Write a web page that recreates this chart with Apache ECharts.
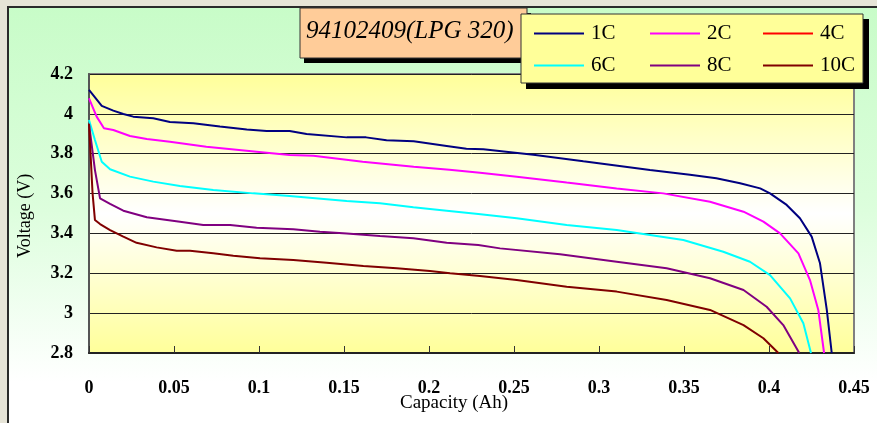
<!DOCTYPE html>
<html>
<head>
<meta charset="utf-8">
<script src="https://cdn.jsdelivr.net/npm/echarts@6/dist/echarts.min.js"></script>
<style>
html,body{margin:0;padding:0;background:#e6e4d7;}
#c{width:877px;height:423px;}
</style>
</head>
<body>
<div id="c"></div>
<script>
// ---- data ----
const seriesNames = ['1C','2C','4C','6C','8C','10C'];
const seriesColors = ['#000080','#ff00ff','#ff0000','#00ffff','#800080','#800000'];
const xTickLabels = ['0','0.05','0.1','0.15','0.2','0.25','0.3','0.35','0.4','0.45'];
const yTickLabels = ['2.8','3','3.2','3.4','3.6','3.8','4','4.2'];

const c1 = [[0,4.12],[0.0075,4.04],[0.0143,4.016],[0.0202,3.999],[0.026,3.986],[0.0378,3.978],[0.0476,3.959],[0.0614,3.953],[0.077,3.936],[0.0928,3.922],[0.1045,3.914],[0.118,3.914],[0.128,3.899],[0.1516,3.882],[0.163,3.882],[0.175,3.867],[0.191,3.862],[0.2104,3.839],[0.222,3.825],[0.232,3.822],[0.2614,3.795],[0.2908,3.762],[0.3065,3.745],[0.33,3.718],[0.3535,3.695],[0.369,3.677],[0.383,3.652],[0.3948,3.626],[0.4006,3.601],[0.4104,3.543],[0.4182,3.476],[0.4251,3.384],[0.43,3.25],[0.434,3.016],[0.4369,2.8]];
const c2 = [[0,4.078],[0.0045,3.986],[0.0088,3.928],[0.0143,3.919],[0.0241,3.889],[0.034,3.874],[0.0476,3.86],[0.069,3.835],[0.0986,3.81],[0.118,3.794],[0.132,3.79],[0.161,3.76],[0.191,3.735],[0.212,3.72],[0.23,3.705],[0.2516,3.685],[0.281,3.655],[0.3104,3.626],[0.3378,3.601],[0.3653,3.559],[0.385,3.509],[0.3967,3.459],[0.4065,3.4],[0.4173,3.3],[0.4241,3.166],[0.429,3.016],[0.4324,2.8]];
const c4 = [];
const c6 = [[0,3.969],[0.0035,3.869],[0.0075,3.76],[0.0124,3.722],[0.0241,3.685],[0.0378,3.66],[0.0535,3.638],[0.0731,3.618],[0.0967,3.601],[0.118,3.588],[0.1516,3.563],[0.1712,3.551],[0.1908,3.531],[0.2104,3.514],[0.229,3.497],[0.2516,3.476],[0.281,3.442],[0.3104,3.417],[0.3496,3.367],[0.3731,3.308],[0.3888,3.258],[0.4006,3.191],[0.4124,3.074],[0.4202,2.949],[0.4247,2.8]];
const c8 = [[0,3.95],[0.0035,3.718],[0.0065,3.576],[0.0124,3.548],[0.0202,3.514],[0.034,3.481],[0.0535,3.459],[0.0672,3.442],[0.083,3.442],[0.0986,3.429],[0.1202,3.421],[0.1359,3.409],[0.1516,3.4],[0.1712,3.387],[0.1908,3.376],[0.2104,3.353],[0.229,3.342],[0.2418,3.325],[0.2771,3.295],[0.3104,3.258],[0.3398,3.225],[0.3653,3.175],[0.385,3.116],[0.3986,3.032],[0.4084,2.94],[0.4178,2.8]];
const c10 = [[0,3.95],[0.0021,3.601],[0.0035,3.467],[0.0065,3.447],[0.0124,3.417],[0.0202,3.384],[0.028,3.353],[0.0398,3.33],[0.0516,3.313],[0.0594,3.313],[0.0731,3.3],[0.0849,3.288],[0.1006,3.275],[0.1202,3.267],[0.1398,3.253],[0.1614,3.237],[0.181,3.225],[0.2006,3.211],[0.2124,3.2],[0.23,3.186],[0.2516,3.166],[0.281,3.133],[0.3104,3.108],[0.3398,3.066],[0.3653,3.016],[0.385,2.94],[0.3967,2.874],[0.4055,2.8]];
const seriesData = [c1,c2,c4,c6,c8,c10];

// ---- chart ----
const chart = echarts.init(document.getElementById('c'), null, {renderer:'canvas'});
const serif = '"Liberation Serif", "DejaVu Serif", serif';

const legendPos = [[534,23],[650,23],[763,23],[534,55],[650,55],[763,55]];
const legends = seriesNames.map((n,i)=>({
  data:[n], left:legendPos[i][0], top:legendPos[i][1], padding:0, z:30,
  icon:'rect', itemWidth:50, itemHeight:2, itemGap:0, selectedMode:false,
  textStyle:{fontFamily:serif, fontSize:21, color:'#000', padding:[0,0,0,2]}
}));

const option = {
  animation:false,
  backgroundColor:'transparent',
  graphic:[
    {type:'rect', z:-10, shape:{x:8,y:7,width:900,height:440},
     style:{fill:{type:'linear',x:0,y:0,x2:0,y2:1,colorStops:[{offset:0,color:'#c8fcc8'},{offset:0.45,color:'#dcfedc'},{offset:0.85,color:'#ffffff'},{offset:1,color:'#ffffff'}]}, stroke:'#2a2a2a', lineWidth:2}},
    // title box
    {type:'rect', z:10, shape:{x:304,y:13,width:227,height:50}, style:{fill:'#000'}},
    {type:'rect', z:11, shape:{x:300,y:8,width:227,height:50}, style:{fill:'#ffcc99', stroke:'#333', lineWidth:1}},
    {type:'text', z:12, left:306, top:19, style:{text:'94102409(LPG 320)', font:'italic 25px ' + serif, fill:'#000'}},
    // legend box
    {type:'rect', z:14, shape:{x:526,y:19,width:343,height:70}, style:{fill:'#000'}},
    {type:'rect', z:15, shape:{x:521,y:14,width:342,height:69}, style:{fill:'#ffff99', stroke:'#333', lineWidth:1}},
    // axis names
    {type:'text', z:5, left:400, top:394, style:{text:'Capacity (Ah)', font:'19px ' + serif, fill:'#000'}},
    {type:'text', z:5, x:16, y:258, rotation:Math.PI/2, style:{text:'Voltage (V)', font:'18px ' + serif, fill:'#000'}}
  ],
  legend: legends,
  grid:{left:89, top:74, right:23, bottom:70, show:true,
    backgroundColor:{type:'linear',x:0,y:0,x2:0,y2:1,colorStops:[{offset:0,color:'#ffff99'},{offset:0.5,color:'#ffffff'},{offset:1,color:'#ffff99'}]},
    borderColor:'#808080', borderWidth:2},
  xAxis:{type:'value', min:0, max:0.45, interval:0.05,
    axisLine:{show:true, onZero:false, lineStyle:{color:'#222', width:2}},
    axisTick:{show:true, inside:true, length:7, lineStyle:{color:'#333', width:1}},
    splitLine:{show:false},
    axisLabel:{margin:26, fontFamily:serif, fontSize:18, fontWeight:'bold', color:'#000',
      formatter:(v)=>xTickLabels[Math.round(v/0.05)]}},
  yAxis:{type:'value', min:2.8, max:4.2, interval:0.2,
    axisLine:{show:true, lineStyle:{color:'#555', width:2}},
    axisTick:{show:false},
    splitLine:{show:true, lineStyle:{color:'#222', width:1}},
    axisLabel:{margin:16, fontFamily:serif, fontSize:18, fontWeight:'bold', color:'#000',
      formatter:(v)=>yTickLabels[Math.round((v-2.8)/0.2)]}},
  series: seriesNames.map((n,i)=>({
    name:n, type:'line', data:seriesData[i], showSymbol:false, symbol:'none',
    lineStyle:{color:seriesColors[i], width:2}, itemStyle:{color:seriesColors[i]},
    z:3, clip:true
  }))
};
chart.setOption(option);
</script>
</body>
</html>
